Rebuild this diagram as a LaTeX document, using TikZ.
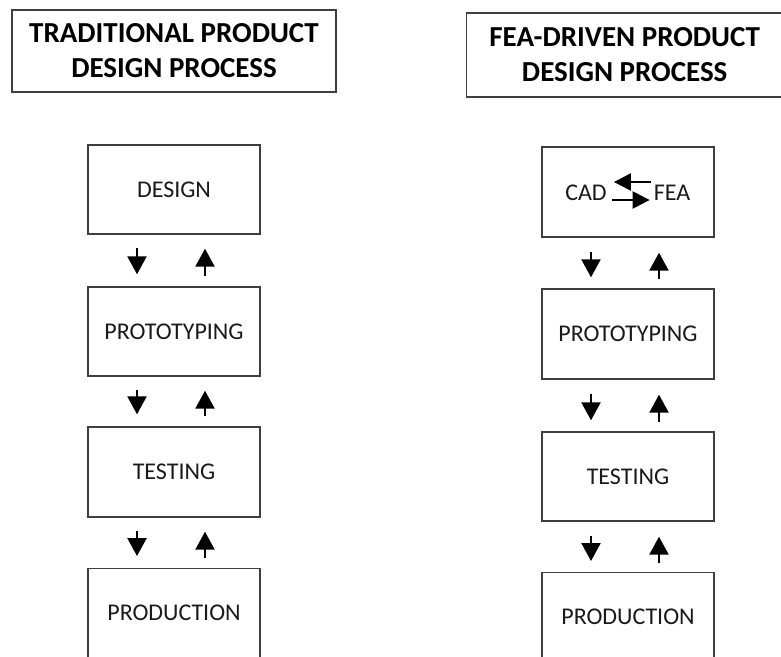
\documentclass[tikz,border=0pt]{standalone}
\usepackage{fontspec}
\setmainfont{Carlito}
\usetikzlibrary{arrows.meta}
\definecolor{edgegray}{HTML}{3F3F3F}
\definecolor{txtgray}{HTML}{1A1A1A}
\tikzset{
  titlebox/.style={draw=edgegray, line width=1.4pt, fill=white, inner sep=0pt,
    align=center, font=\bfseries\fontsize{29}{35}\selectfont, text=black},
  stagebox/.style={draw=edgegray, line width=1.4pt, fill=white, inner sep=0pt,
    minimum width=172pt, font=\fontsize{24}{28}\selectfont, text=txtgray},
  flow/.style={line width=2.4pt, -{Triangle[length=18pt,width=19pt]}},
  swap/.style={line width=2.4pt, -{Triangle[length=17pt,width=17pt]}},
  lbl/.style={inner sep=0pt, font=\fontsize{24}{28}\selectfont, text=txtgray}
}
\begin{document}
\begin{tikzpicture}[x=1pt,y=-1pt]
\useasboundingbox (0,0) rectangle (781,656);
\clip (0,0) rectangle (781,656);
\fill[white] (0,0) rectangle (781,656);
% titles
\node[titlebox, minimum width=324pt, minimum height=82pt] (t1) at (174,51)
  {TRADITIONAL PRODUCT\\DESIGN PROCESS};
\node[titlebox, minimum width=330pt, minimum height=84pt, anchor=west] (t2) at (466,55)
  {\hspace*{-14pt}FEA-DRIVEN PRODUCT\\\hspace*{-14pt}DESIGN PROCESS};
% left column
\node[stagebox, minimum height=89pt] (l1) at (174,189.5) {DESIGN};
\node[stagebox, minimum height=89pt] (l2) at (174,331.5) {PROTOTYPING};
\node[stagebox, minimum height=90pt] (l3) at (174,472) {TESTING};
\node[stagebox, minimum height=90pt, anchor=north] (l4) at (174,568) {};
\node[lbl] (l4t) at (174,613) {PRODUCTION};
% right column
\node[stagebox, minimum height=90pt] (r1) at (628,192) {};
\node[lbl] (cad) at (586,193) {CAD};
\node[lbl] (fea) at (672,193) {FEA};
\node[stagebox, minimum height=90pt] (r2) at (628,334) {PROTOTYPING};
\node[stagebox, minimum height=89pt] (r3) at (628,476.5) {TESTING};
\node[stagebox, minimum height=90pt, anchor=north] (r4) at (628,572) {};
\node[lbl] (r4t) at (628,617) {PRODUCTION};
% CAD <-> FEA arrows
\draw[swap] ([xshift=-3pt,yshift=11pt]fea.west) -- ([xshift=7pt,yshift=11pt]cad.east);
\draw[swap] ([xshift=5pt,yshift=-7pt]cad.east) -- ([xshift=-4pt,yshift=-7pt]fea.west);
% left arrows
\foreach \a/\b in {l1/l2,l2/l3,l3/l4}{
  \draw[flow, shorten <=13pt, shorten >=12pt] ([xshift=-37pt]\a.south) -- ([xshift=-37pt]\b.north);
  \draw[flow, shorten <=10pt, shorten >=14pt] ([xshift=31pt]\b.north) -- ([xshift=31pt]\a.south);
}
% right arrows
\foreach \a/\b in {r1/r2,r2/r3,r3/r4}{
  \draw[flow, shorten <=14pt, shorten >=11pt] ([xshift=-37pt]\a.south) -- ([xshift=-37pt]\b.north);
  \draw[flow, shorten <=9pt, shorten >=15pt] ([xshift=31pt]\b.north) -- ([xshift=31pt]\a.south);
}
\end{tikzpicture}
\end{document}
